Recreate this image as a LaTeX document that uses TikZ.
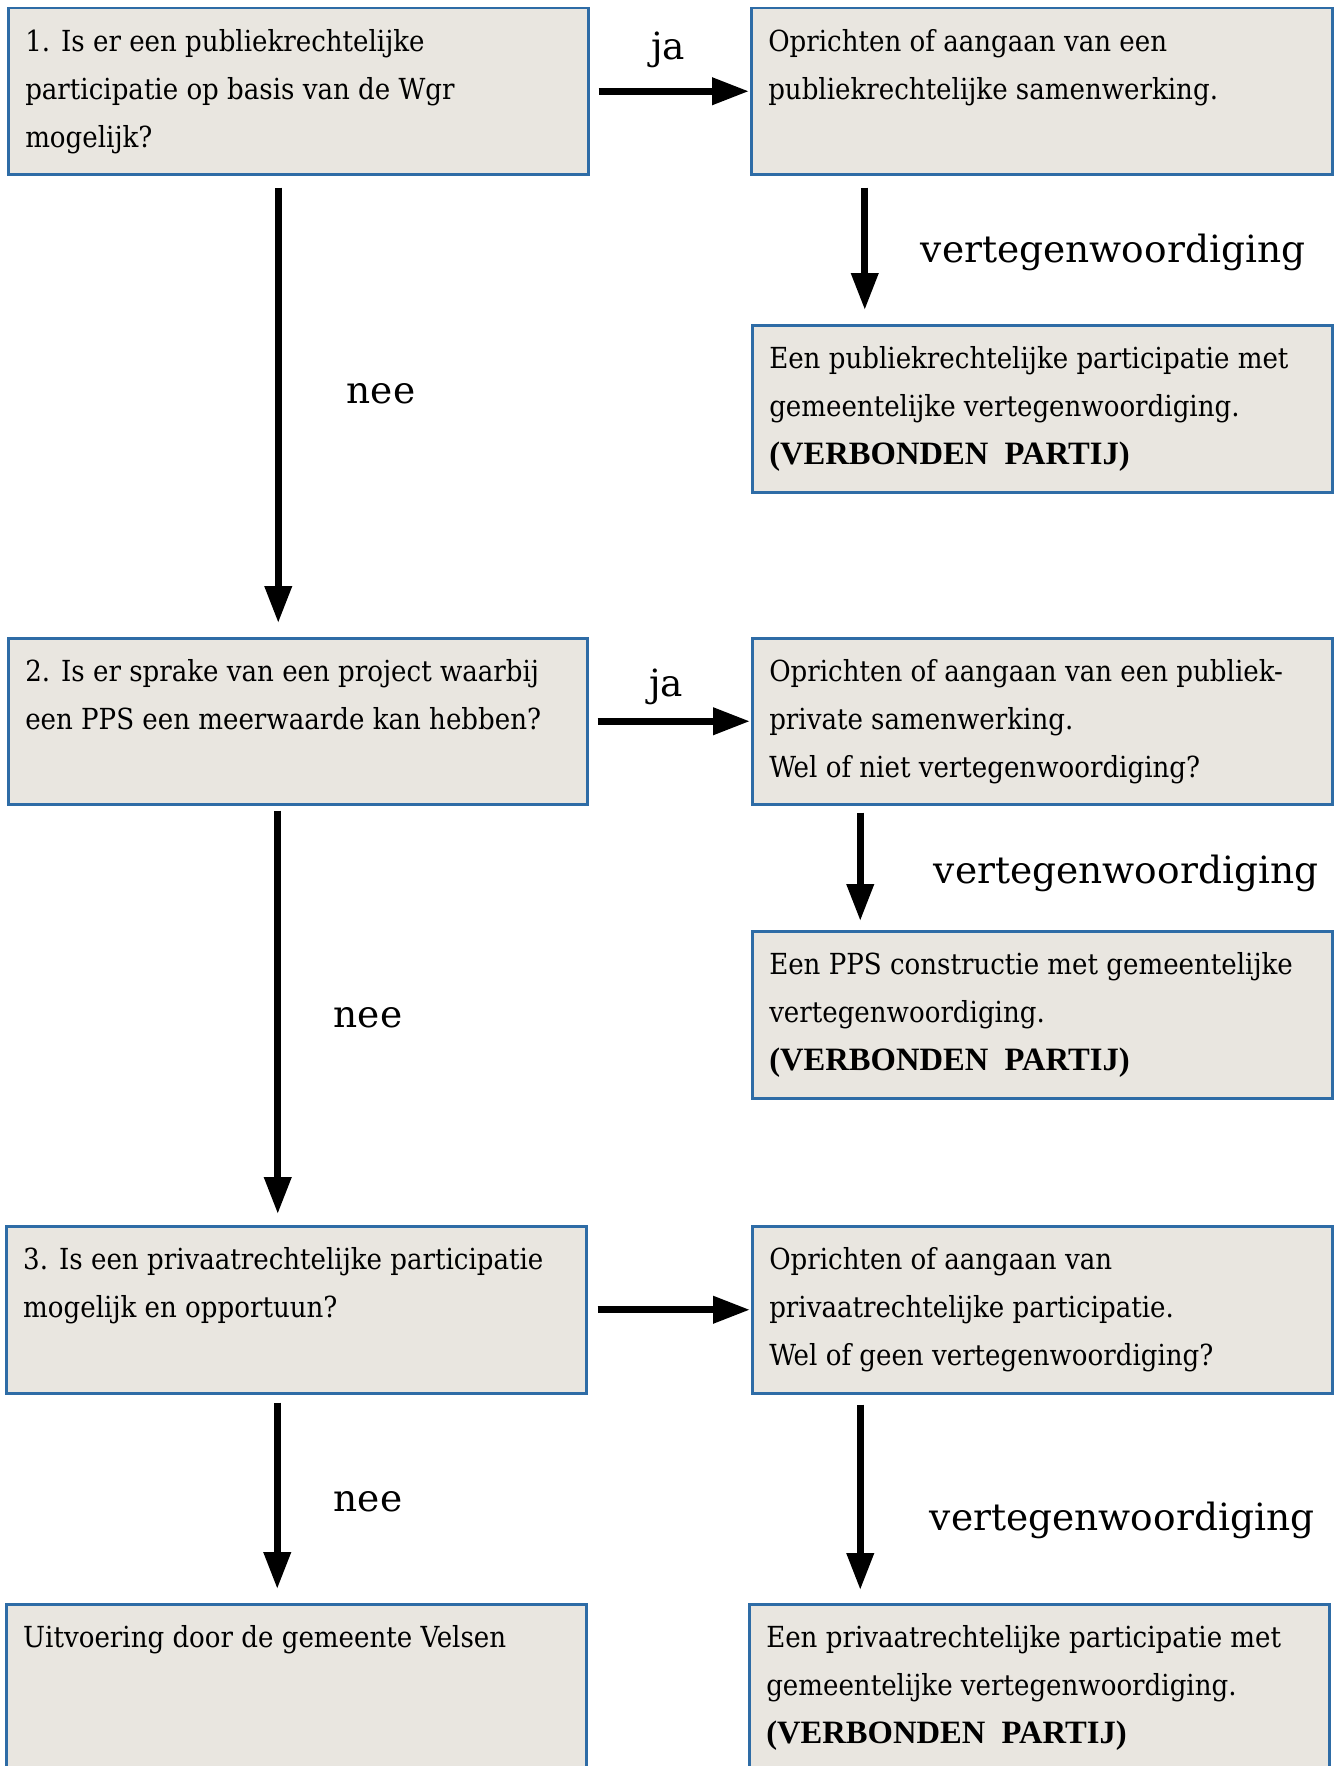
\documentclass[tikz,border=0pt]{standalone}
\usepackage{fontspec}
\setmainfont{DejaVu Serif Condensed}
\newfontfamily\lblfont{DejaVu Serif}
\newfontfamily\vpfont{Liberation Serif}
\usetikzlibrary{arrows.meta}
\definecolor{boxfill}{RGB}{233,230,224}
\definecolor{boxline}{RGB}{46,108,166}
\newcommand\bt[3]{\parbox[t][#2][t]{#1}{\raggedright\rule{0pt}{43pt}#3}}
\newcommand\vp{{\vpfont\bfseries\fontsize{32.6}{48}\selectfont (VERBONDEN\ \ PARTIJ)}}
\begin{document}
\begin{tikzpicture}[x=1pt,y=-1pt,
  box/.style={draw=boxline, line width=2.5pt, fill=boxfill, anchor=north west,
    inner xsep=17pt, inner ysep=0pt, font=\fontsize{29}{48}\selectfont},
  arr/.style={-{Triangle[length=37pt,width=26pt]}, line width=7pt},
  lbl/.style={font=\lblfont\fontsize{37.5}{40}\selectfont, inner sep=0pt}]
\path[use as bounding box] (0,0) rectangle (1338,1766);
\clip (0,0) rectangle (1338,1766);
\node[box] (b1) at (7,7) {\bt{546pt}{166pt}{1. Is er een publiekrechtelijke\\participatie op basis van de Wgr\\mogelijk?}};
\node[box] (r1) at (750,7) {\bt{547pt}{166pt}{Oprichten of aangaan van een\\publiekrechtelijke samenwerking.}};
\node[box] (r1b) at (751,324) {\bt{546pt}{167pt}{Een publiekrechtelijke participatie met\\gemeentelijke vertegenwoordiging.\\\vp}};
\node[box] (b2) at (7,637) {\bt{545pt}{166pt}{2. Is er sprake van een project waarbij\\een PPS een meerwaarde kan hebben?}};
\node[box] (r2) at (751,637) {\bt{546pt}{166pt}{Oprichten of aangaan van een publiek-\\private samenwerking.\\Wel of niet vertegenwoordiging?}};
\node[box] (r2b) at (751,930) {\bt{546pt}{167pt}{Een PPS constructie met gemeentelijke\\vertegenwoordiging.\\\vp}};
\node[box] (b3) at (5,1225) {\bt{546pt}{167pt}{3. Is een privaatrechtelijke participatie\\mogelijk en opportuun?}};
\node[box] (r3) at (751,1225) {\bt{546pt}{167pt}{Oprichten of aangaan van\\privaatrechtelijke participatie.\\Wel of geen vertegenwoordiging?}};
\node[box] (b4) at (5,1603) {\bt{546pt}{220pt}{Uitvoering door de gemeente Velsen}};
\node[box] (r4) at (748,1603) {\bt{546pt}{220pt}{Een privaatrechtelijke participatie met\\gemeentelijke vertegenwoordiging.\\\vp}};
% horizontal arrows
\draw[arr] ([xshift=9pt]b1.east) -- ([xshift=-1pt]r1.west);
\draw[arr] ([xshift=9pt]b2.east) -- ([xshift=-1pt]r2.west);
\draw[arr] ([xshift=10pt]b3.east) -- ([xshift=-1pt]r3.west);
% left vertical arrows
\draw[arr] ([xshift=-20pt,yshift=-12pt]b1.south) -- ([xshift=-20pt,yshift=14pt]b1.south |- b2.north);
\draw[arr] ([xshift=-20pt,yshift=-5pt]b2.south) -- ([xshift=-20pt,yshift=11pt]b2.south |- b3.north);
\draw[arr] ([xshift=-19pt,yshift=-8pt]b3.south) -- ([xshift=-19pt,yshift=14pt]b3.south |- b4.north);
% right vertical arrows
\draw[arr] ([xshift=-177pt,yshift=-12pt]r1.south) -- ([xshift=-177pt,yshift=14pt]r1.south |- r1b.north);
\draw[arr] ([xshift=-182pt,yshift=-7pt]r2.south) -- ([xshift=-182pt,yshift=9pt]r2.south |- r2b.north);
\draw[arr] ([xshift=-182pt,yshift=-10pt]r3.south) -- ([xshift=-182pt,yshift=13pt]r3.south |- r4.north);
% labels
\node[lbl] (ja1) at (668,50) {ja};
\node[lbl] (ja2) at (666,687) {ja};
\node[lbl] (nee1) at (381,394) {nee};
\node[lbl] (nee2) at (368,1018) {nee};
\node[lbl] (nee3) at (368,1502) {nee};
\node[lbl] (v1) at (1113,252) {vertegenwoordiging};
\node[lbl] (v2) at (1126,873) {vertegenwoordiging};
\node[lbl] (v3) at (1122,1520) {vertegenwoordiging};
\end{tikzpicture}
\end{document}
